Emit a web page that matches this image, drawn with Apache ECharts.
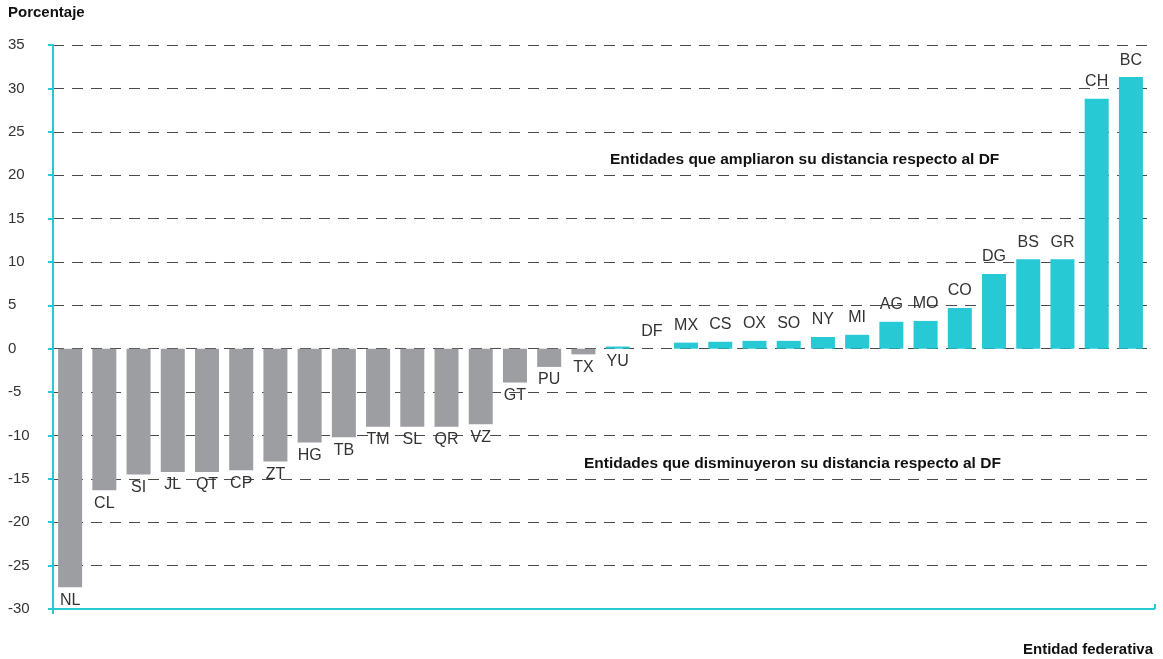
<!DOCTYPE html>
<html><head><meta charset="utf-8">
<script src="https://cdn.jsdelivr.net/npm/echarts@6/dist/echarts.min.js"></script>
<style>html,body{margin:0;padding:0;background:#fff}#c{width:1163px;height:659px}</style>
</head><body><div id="c"></div>
<script>
const categories = ['NL','CL','SI','JL','QT','CP','ZT','HG','TB','TM','SL','QR','VZ','GT','PU','TX','YU','DF','MX','CS','OX','SO','NY','MI','AG','MO','CO','DG','BS','GR','CH','BC'];
const values = [-27.5,-16.3,-14.5,-14.2,-14.2,-14.0,-13.0,-10.8,-10.2,-9.0,-9.0,-9.0,-8.7,-3.9,-2.1,-0.65,0.25,0,0.7,0.8,0.9,0.9,1.35,1.6,3.1,3.2,4.7,8.6,10.3,10.3,28.8,31.3];
const labelBelow = ['YU'];
const yTicks = [-30,-25,-20,-15,-10,-5,0,5,10,15,20,25,30,35];
const annotations = ['Entidades que ampliaron su distancia respecto al DF','Entidades que disminuyeron su distancia respecto al DF'];
const yTitle = 'Porcentaje';
const xTitle = 'Entidad federativa';

const GRAY = '#9d9ea2', TEAL = '#26c9d4';
const FONT = 'Liberation Sans, Arial, sans-serif';
const chart = echarts.init(document.getElementById('c'));
const data = values.map((v,i)=>{
  const below = v < 0 || labelBelow.includes(categories[i]);
  return {
    value: v,
    itemStyle: {color: v < 0 ? GRAY : TEAL},
    label: below ? {position:'bottom',distance:5} : {position:'top',distance:9}
  };
});
chart.setOption({
  animation:false,
  grid:{left:53,right:15,top:45,bottom:50},
  xAxis:{type:'category',data:categories,
    axisLine:{show:false},axisTick:{show:false},axisLabel:{show:false},splitLine:{show:false}},
  yAxis:{type:'value',min:yTicks[0],max:yTicks[yTicks.length-1],interval:5,
    axisLine:{show:true,lineStyle:{color:TEAL,width:2}},
    axisTick:{show:true,length:5,lineStyle:{color:TEAL,width:2}},
    axisLabel:{color:'#333',fontSize:15,fontFamily:FONT,margin:45,align:'left',
      formatter:v=>String(v)},
    splitLine:{show:true,lineStyle:{color:'#4a4a4a',type:[11,8],width:1.2}}},
  series:[{type:'bar',data:data,barWidth:24,z:20,
    label:{show:true,formatter:p=>categories[p.dataIndex],color:'#333',fontSize:16,fontFamily:FONT},
  }],
  graphic:[
    {type:'text',left:8,top:5,style:{text:yTitle,font:'bold 15px '+FONT,fill:'#111'}},
    {type:'text',right:10,top:642,style:{text:xTitle,font:'bold 15px '+FONT,fill:'#111'}},
    {type:'text',left:610,top:152,style:{text:annotations[0],font:'bold 15.5px '+FONT,fill:'#111'}},
    {type:'text',left:584,top:456,style:{text:annotations[1],font:'bold 15.5px '+FONT,fill:'#111'}},
    {type:'line',shape:{x1:53,y1:609,x2:1155,y2:609},style:{stroke:TEAL,lineWidth:2},z:1},
    {type:'line',shape:{x1:1155,y1:609,x2:1155,y2:604},style:{stroke:TEAL,lineWidth:2},z:1},
    {type:'line',shape:{x1:53,y1:609,x2:53,y2:614},style:{stroke:TEAL,lineWidth:2},z:1}
  ]
});
</script></body></html>
